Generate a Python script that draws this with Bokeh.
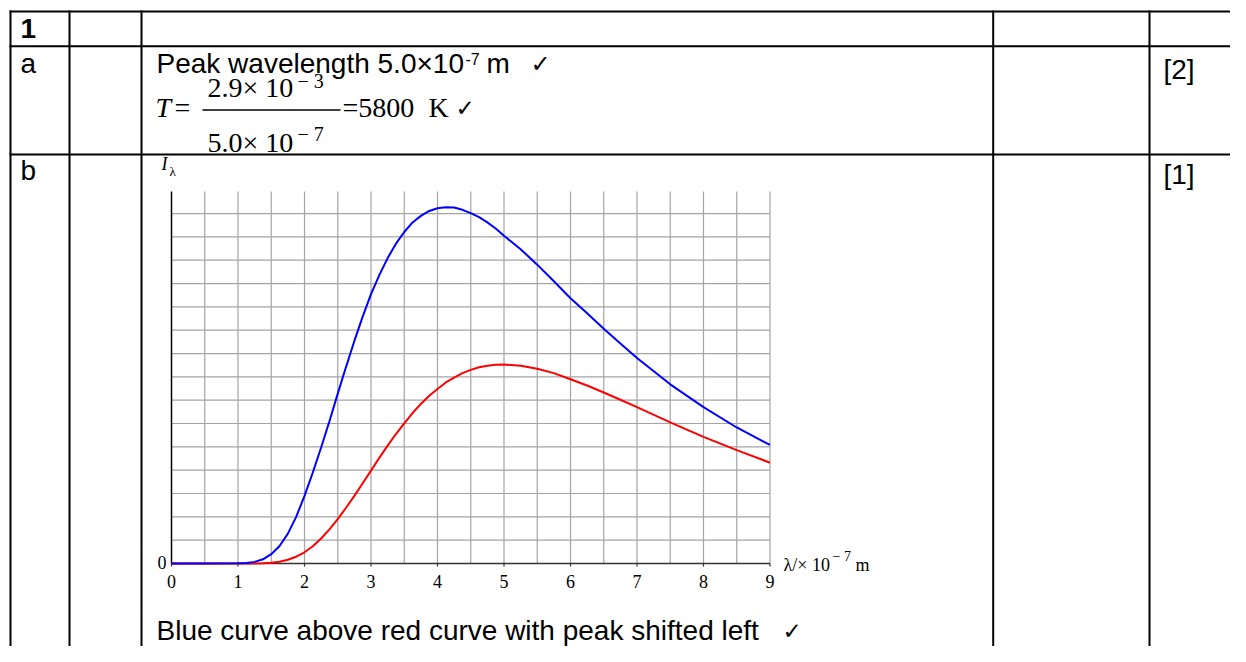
from bokeh.plotting import figure
from bokeh.models import Range1d
from bokeh.core.properties import value
from bokeh.embed import file_html
from bokeh.resources import INLINE

# ---------------- data ----------------
wavelength = [0, 0.5, 1.0, 1.125, 1.25, 1.375, 1.5, 1.625, 1.75, 1.875, 2.0, 2.125, 2.25, 2.375,
              2.5, 2.625, 2.75, 2.875, 3.0, 3.125, 3.25, 3.375, 3.5, 3.625, 3.75, 3.875, 4.0,
              4.125, 4.25, 4.375, 4.5, 4.625, 4.75, 4.875, 5.0, 5.25, 5.5, 5.75, 6.0, 6.25, 6.5,
              6.75, 7.0, 7.5, 8.0, 8.5, 9.0]
intensity_blue = [0, 0, 0.01, 0.02, 0.07, 0.18, 0.4, 0.75, 1.28, 2.0, 2.9, 3.9, 4.97, 6.1,
                  7.28, 8.43, 9.54, 10.58, 11.55, 12.36, 13.09, 13.71, 14.21, 14.62, 14.9, 15.11, 15.23,
                  15.27, 15.26, 15.16, 15.02, 14.85, 14.62, 14.36, 14.05, 13.47, 12.81, 12.1, 11.37, 10.73, 10.06,
                  9.43, 8.81, 7.68, 6.7, 5.83, 5.08]
intensity_red = [0, 0, 0, 0, 0.003, 0.011, 0.033, 0.078, 0.16, 0.29, 0.48, 0.74, 1.07, 1.46,
                 1.9, 2.39, 2.9, 3.44, 3.98, 4.53, 5.05, 5.55, 6.01, 6.45, 6.84, 7.19, 7.48,
                 7.76, 7.97, 8.16, 8.3, 8.41, 8.48, 8.52, 8.53, 8.48, 8.35, 8.16, 7.9, 7.63, 7.33,
                 7.02, 6.7, 6.05, 5.43, 4.86, 4.32]
x_tick_values = [0, 1, 2, 3, 4, 5, 6, 7, 8, 9]
x_tick_labels = ["0", "1", "2", "3", "4", "5", "6", "7", "8", "9"]
y_tick_values = [0]
y_tick_labels = ["0"]
x_grid_values = [0.5, 1.0, 1.5, 2.0, 2.5, 3.0, 3.5, 4.0, 4.5, 5.0, 5.5, 6.0, 6.5, 7.0, 7.5, 8.0, 8.5, 9.0]
y_grid_values = [1, 2, 3, 4, 5, 6, 7, 8, 9, 10, 11, 12, 13, 14, 15]
x_min, x_max = 0, 9
y_top = 15.94

# ---------------- layout ----------------
W, H = 1230, 646
X0, SX = 171.0, 66.5     # pixel of lambda = 0, pixels per unit
Y0, SY = 563.0, 23.33    # pixel of I = 0, pixels per unit
BASE_K = 0.35            # baseline correction (fraction of font size)

lam_start = (0 - X0) / SX
lam_end = (W - X0) / SX
i_top = (Y0 - 0) / SY
i_bottom = (Y0 - H) / SY

p = figure(width=W, height=H, output_backend="svg", toolbar_location=None,
           x_range=Range1d(lam_start, lam_end), y_range=Range1d(i_bottom, i_top),
           x_axis_location=None, y_axis_location=None, min_border=0,
           outline_line_color=None, background_fill_color="white",
           border_fill_color="white")
p.extra_x_ranges = {"px": Range1d(0, W)}
p.extra_y_ranges = {"px": Range1d(H, 0)}
p.xgrid.grid_line_color = None
p.ygrid.grid_line_color = None

SANS = value("Liberation Sans")
SERIF = value("Liberation Serif")
CHECK = value("DejaVu Sans")


def txt(x, y, s, font=SANS, size=28, style="normal", align="left", color="black"):
    p.text(x=[x], y=[y - BASE_K * size], text=[s], text_font=font,
           text_font_size=f"{size}px", text_font_style=style, text_align=align,
           text_baseline="alphabetic", text_color=color,
           x_range_name="px", y_range_name="px")


# ---------------- chart ----------------
grid_color = "#a4a4a4"
p.segment(x0=x_grid_values, x1=x_grid_values, y0=[0] * len(x_grid_values),
          y1=[y_top] * len(x_grid_values), line_color=grid_color, line_width=1.2)
p.segment(x0=[x_min] * len(y_grid_values), x1=[x_max] * len(y_grid_values),
          y0=y_grid_values, y1=y_grid_values, line_color=grid_color, line_width=1.2)
p.segment(x0=[x_min], x1=[x_max], y0=[0], y1=[0], line_color="#333333", line_width=1.5)
p.segment(x0=[x_min], x1=[x_min], y0=[0], y1=[y_top], line_color="black", line_width=1.5)
p.segment(x0=x_tick_values, x1=x_tick_values, y0=[0] * len(x_tick_values),
          y1=[-0.13] * len(x_tick_values), line_color="#333333", line_width=1.2)
p.text(x=x_tick_values, y=[0] * len(x_tick_values), text=x_tick_labels,
       text_font=SERIF, text_font_size="18px", text_align="center",
       text_baseline="alphabetic", y_offset=24 - BASE_K * 18, text_color="black")
p.text(x=[x_min] * len(y_tick_values), y=y_tick_values, text=y_tick_labels,
       text_font=SERIF, text_font_size="18px", text_align="right",
       text_baseline="alphabetic", x_offset=-5, y_offset=5 - BASE_K * 18,
       text_color="black")

p.line(wavelength, intensity_red, line_color="#ff0000", line_width=2)
p.line(wavelength, intensity_blue, line_color="#0000ff", line_width=2)

txt(161, 170, "I", font=SERIF, size=18, style="italic")
txt(169, 176, "λ", font=SERIF, size=13)
txt(783, 571, "λ/× 10", font=SERIF, size=18)
txt(832, 561, "− 7", font=SERIF, size=14)
txt(855, 571, "m", font=SERIF, size=18)

# ---------------- table texts ----------------
txt(20, 38, "1", style="bold")
txt(20, 73, "a")
txt(20, 180, "b")
txt(1163, 79, "[2]")
txt(1163, 184, "[1]")

txt(156, 73, "Peak wavelength 5.0×10")
txt(465, 64, "-7", size=16)
txt(486, 73, "m")
txt(530, 72, "✓", font=CHECK, size=24)

txt(155, 117, "T", font=SERIF, style="italic")
txt(174, 117, "=", font=SERIF)
txt(207, 97, "2.9× 10", font=SERIF)
txt(297, 87, "− 3", font=SERIF, size=20)
p.segment(x0=[202], x1=[340], y0=[109.5], y1=[109.5], line_color="black",
          line_width=1.4, x_range_name="px", y_range_name="px")
txt(207, 152, "5.0× 10", font=SERIF)
txt(297, 140, "− 7", font=SERIF, size=20)
txt(342, 117, "=5800", font=SERIF)
txt(428, 117, "K", font=SERIF)
txt(455, 116, "✓", font=CHECK, size=23)

txt(156, 640, "Blue curve above red curve with peak shifted left")
txt(782, 639, "✓", font=CHECK, size=23)

# ---------------- table lines (drawn last, on top) ----------------
h_lines_y = [11, 45.7, 154]
v_lines_x = [10, 69, 141, 992.7, 1149]
p.segment(x0=[9] * 3, x1=[1250] * 3, y0=h_lines_y, y1=h_lines_y,
          line_color="black", line_width=2, x_range_name="px", y_range_name="px")
p.segment(x0=v_lines_x, x1=v_lines_x, y0=[10] * 5, y1=[700] * 5,
          line_color="black", line_width=2, x_range_name="px", y_range_name="px")

open("out.html", "w").write(file_html(p, INLINE))
